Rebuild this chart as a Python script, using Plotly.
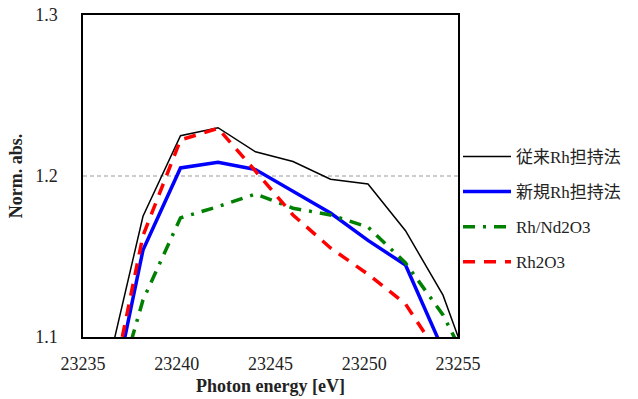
import plotly.graph_objects as go

energy = [23236.2, 23238.2, 23240.2, 23242.2, 23244.2, 23246.2, 23248.2, 23250.2, 23252.2, 23254.2, 23256.2]
conv_rh = [1.075, 1.175, 1.225, 1.230, 1.215, 1.209, 1.198, 1.195, 1.166, 1.126, 1.062]
new_rh = [1.042, 1.154, 1.205, 1.2085, 1.204, 1.1906, 1.177, 1.160, 1.1447, 1.092, 1.05]
rh_nd2o3 = [1.042, 1.123, 1.174, 1.181, 1.1888, 1.180, 1.1758, 1.1683, 1.146, 1.1137, 1.068]
rh2o3 = [1.049, 1.163, 1.2224, 1.2296, 1.203, 1.1758, 1.1553, 1.139, 1.1205, 1.086, 1.05]

names = ["従来Rh担持法", "新規Rh担持法", "Rh/Nd2O3", "Rh2O3"]
colors = ["#000000", "#0000ff", "#008000", "#ff0000"]
widths = [1.5, 3.5, 3.5, 3.5]
dashes = ["solid", "solid", "12px,8px,3px,8px", "12px,9px"]

fig = go.Figure()
for i, ys in enumerate([conv_rh, new_rh, rh_nd2o3, rh2o3]):
    fig.add_trace(go.Scatter(
        x=energy, y=ys, mode="lines", name=names[i], legendgroup=str(i),
        line=dict(color=colors[i], width=widths[i], dash=dashes[i]),
    ))

serif = "Liberation Serif"
tick_font = dict(family=serif, size=18, color="#222")
fig.update_layout(
    width=638, height=399,
    margin=dict(l=83, r=180, t=15, b=62),
    plot_bgcolor="white", paper_bgcolor="white",
    font=dict(family=serif, size=16, color="#222"),
    showlegend=True,
    legend=dict(x=1.0, y=0.615, xanchor="left", yanchor="top", itemwidth=48,
                font=dict(family="Liberation Serif, Noto Sans CJK JP", size=17, color="#222"),
                tracegroupgap=10, bgcolor="rgba(0,0,0,0)"),
    xaxis=dict(range=[23235, 23255], dtick=5, tick0=23235, tickformat="d",
               showgrid=False, automargin=False, tickfont=tick_font,
               showline=True, linecolor="black", linewidth=1.5, mirror=True,
               ticks="", ticklabelstandoff=10, zeroline=False,
               title=dict(text="<b>Photon energy [eV]</b>", standoff=6,
                          font=dict(family=serif, size=18, color="#222"))),
    yaxis=dict(range=[1.1, 1.3], dtick=0.1, tick0=1.1, tickformat=".1f",
               showgrid=False, automargin=False, tickfont=tick_font,
               showline=True, linecolor="black", linewidth=1.5,
               mirror=True, ticks="", ticklabelstandoff=20, zeroline=False,
               title=dict(text="<b>Norm. abs.</b>", standoff=8,
                          font=dict(family=serif, size=18, color="#222"))),
    shapes=[dict(type="line", xref="paper", x0=0, x1=1, yref="y", y0=1.2, y1=1.2,
                 line=dict(color="#999", width=1, dash="4px,3px"), layer="below")],
)

fig.write_html("out.html", config={"displayModeBar": False},
               post_script="document.body.style.margin='0px';")
